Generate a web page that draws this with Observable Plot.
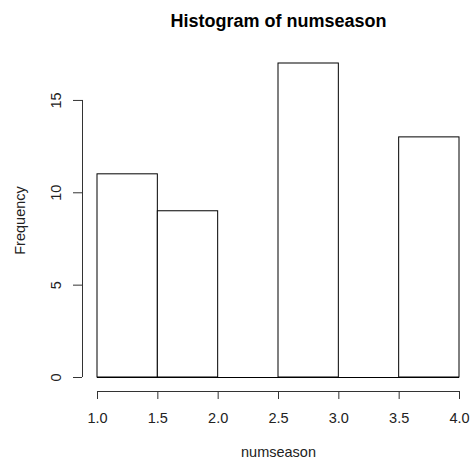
<!DOCTYPE html>
<html>
<head>
<meta charset="utf-8">
<script src="https://cdn.jsdelivr.net/npm/d3@7"></script>
<script src="https://cdn.jsdelivr.net/npm/@observablehq/plot@0.6"></script>
<style>
  body { margin: 0; background: #fff; }
  svg { font-family: "Liberation Sans", Arial, sans-serif; }
</style>
</head>
<body>
<div id="chart"></div>
<script>
const binStarts = [1.0, 1.5, 2.0, 2.5, 3.0, 3.5];
const binEnds   = [1.5, 2.0, 2.5, 3.0, 3.5, 4.0];
const counts    = [11, 9, 0, 17, 0, 13];
const xTicks = [1.0, 1.5, 2.0, 2.5, 3.0, 3.5, 4.0];
const yTicks = [0, 5, 10, 15];
const title = "Histogram of numseason";
const xLabel = "numseason";
const yLabel = "Frequency";

const bins = binStarts.map((s, i) => ({x1: s, x2: binEnds[i], count: counts[i]}));
const xMin = binStarts[0], xMax = binEnds[binEnds.length - 1];

const chart = Plot.plot({
  width: 471,
  height: 465,
  marginLeft: 97,
  marginRight: 12,
  marginTop: 63,
  marginBottom: 88,
  style: {fontFamily: '"Liberation Sans", Arial, sans-serif', fontSize: "14.5px", color: "#000", background: "#fff"},
  x: {domain: [xMin, xMax]},
  y: {domain: [0, d3.max(counts)]},
  marks: [
    Plot.rectY(bins.filter(d => d.count > 0), {x1: "x1", x2: "x2", y: "count", fill: "white", stroke: "black", strokeWidth: 1}),
    Plot.ruleY([0], {x1: xMin, x2: xMax, stroke: "black", strokeWidth: 1}),
    // x axis (offset like R)
    Plot.ruleY([0], {x1: xTicks[0], x2: xTicks[xTicks.length - 1], dy: 14, stroke: "#333"}),
    Plot.axisX({ticks: xTicks, tickSize: 8, dy: 14, tickPadding: 13, tickFormat: d => d.toFixed(1), fontSize: 14.5, stroke: "#333", fill: "#222", label: null}),
    // y axis
    Plot.ruleX([xMin], {y1: yTicks[0], y2: yTicks[yTicks.length - 1], dx: -15, stroke: "#333"}),
    Plot.axisY({ticks: yTicks, tickSize: 9, dx: -15, tickFormat: () => "", stroke: "#333", label: null}),
    Plot.text(yTicks, {x: xMin, y: d => d, text: d => String(d), rotate: -90, dx: -41, textAnchor: "middle", fontSize: 14.5, fill: "#222"}),
    // titles
    Plot.text([title], {frameAnchor: "top", dy: -49, fontSize: 18, fontWeight: "bold", fill: "#000"}),
    Plot.text([xLabel], {frameAnchor: "bottom", dy: 79, fontSize: 14.5, fill: "#222"}),
    Plot.text([yLabel], {frameAnchor: "left", dx: -77, rotate: -90, textAnchor: "middle", fontSize: 14.5, fill: "#222"})
  ]
});
document.getElementById("chart").appendChild(chart);
</script>
</body>
</html>
